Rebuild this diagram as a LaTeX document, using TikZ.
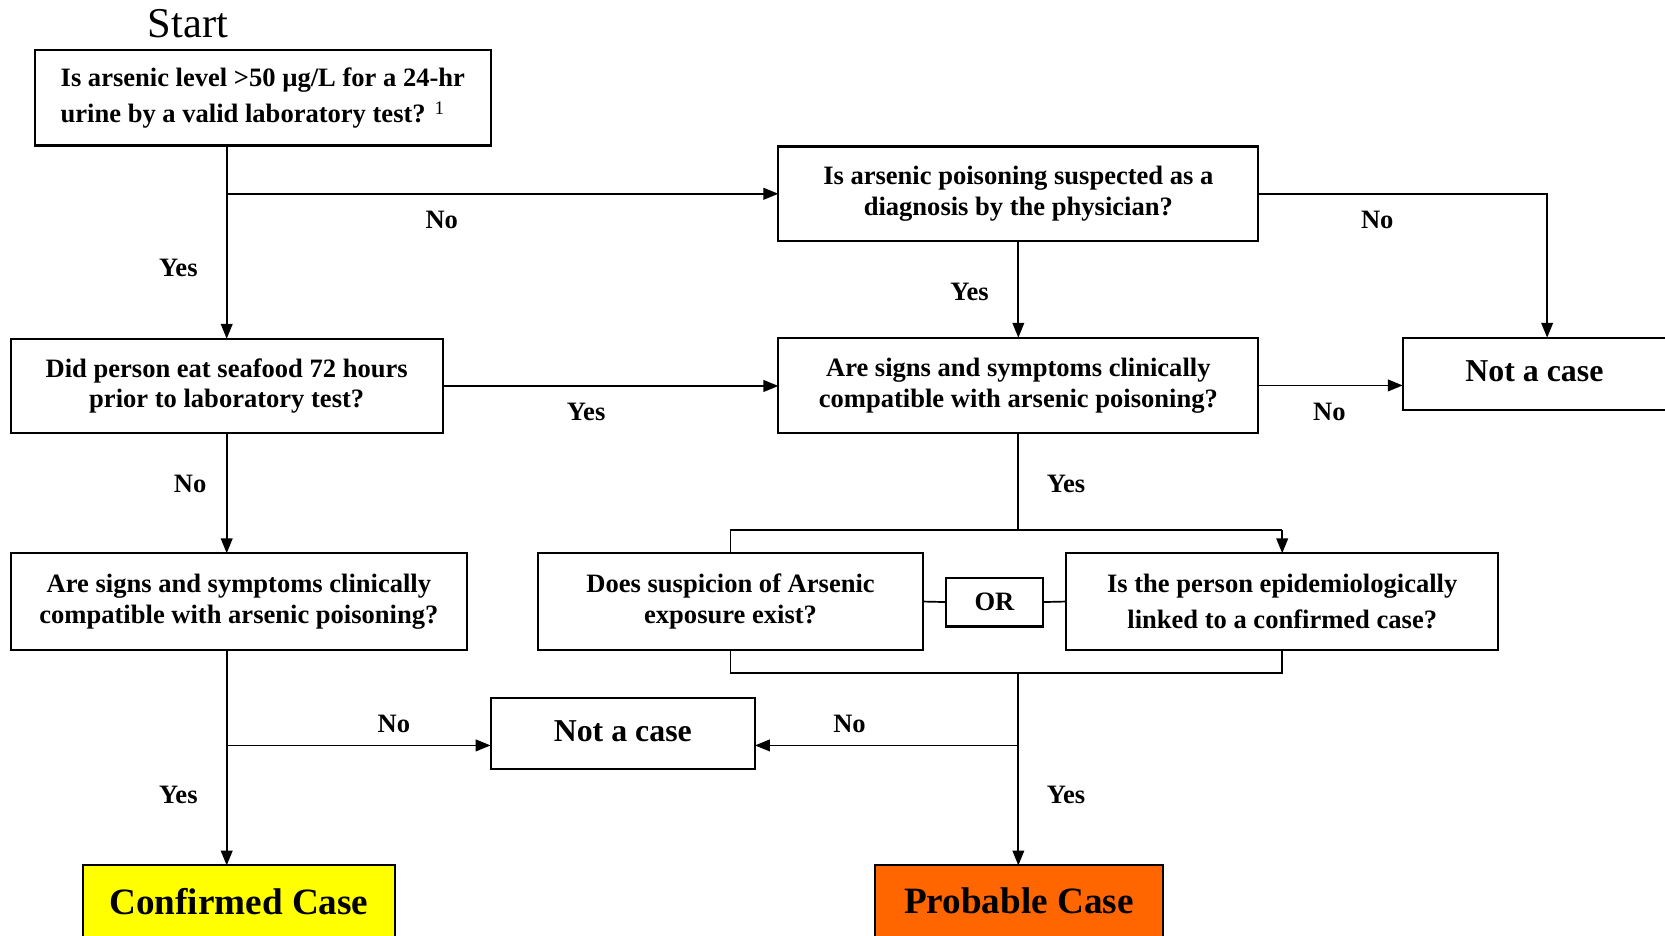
\documentclass[tikz,border=0pt]{standalone}
\usepackage{fontspec}
\setmainfont{Liberation Serif}
\usetikzlibrary{arrows.meta,calc}
\definecolor{cyel}{HTML}{FFFF00}
\definecolor{corg}{HTML}{FF6600}
\begin{document}
\begin{tikzpicture}[x=0.5pt,y=-0.5pt,
  box/.style={draw, line width=1pt, inner sep=0pt, outer sep=0pt, align=center,
    font=\bfseries\fontsize{12.5}{14.5}\selectfont},
  bigbox/.style={box, font=\bfseries\fontsize{15}{18}\selectfont},
  endbox/.style={box, font=\bfseries\fontsize{17.5}{21}\selectfont},
  lbl/.style={font=\bfseries\fontsize{12.5}{15}\selectfont, inner sep=0pt},
  ln/.style={line width=0.8pt},
  arr/.style={ln, -{Triangle[length=7pt,width=5.5pt]}}]
\useasboundingbox (0,0) rectangle (1568,881);

\node[font=\fontsize{20}{24}\selectfont, inner sep=0pt] (start) at (177,22) {Start};

\node[box, minimum width=214.5pt, minimum height=45pt, align=left,
  font=\bfseries\fontsize{12.5}{17}\selectfont] (b1) at (247.5,92)
  {Is arsenic level >50 µg/L for a 24-hr\\urine by a valid laboratory test? \textmd{\raisebox{0.6ex}{\fontsize{9}{9}\selectfont 1}}};
\node[box, minimum width=226pt, minimum height=44.5pt] (b2) at (959,182.5)
  {Is arsenic poisoning suspected as a\\diagnosis by the physician?};
\node[box, minimum width=203.5pt, minimum height=44.5pt] (b3) at (213.5,363.5)
  {Did person eat seafood 72 hours\\prior to laboratory test?};
\node[box, minimum width=226pt, minimum height=45pt] (b4) at (959,363)
  {Are signs and symptoms clinically\\compatible with arsenic poisoning?};
\node[bigbox, minimum width=124pt, minimum height=34pt] (b5) at (1445,352) {\raisebox{2.5pt}{Not a case}};
\node[box, minimum width=215pt, minimum height=45.5pt] (b6) at (225,566.5)
  {Are signs and symptoms clinically\\compatible with arsenic poisoning?};
\node[box, minimum width=181pt, minimum height=45.5pt] (b7) at (688,566.5)
  {Does suspicion of Arsenic\\exposure exist?};
\node[box, minimum width=45.5pt, minimum height=23pt] (or) at (936.5,567) {\raisebox{-1pt}{OR}};
\node[box, minimum width=203.5pt, minimum height=45.5pt, font=\bfseries\fontsize{12.5}{17}\selectfont] (b8) at (1207.5,566.5)
  {Is the person epidemiologically\\linked to a confirmed case?};
\node[bigbox, minimum width=124.5pt, minimum height=33.5pt] (b9) at (586.5,690.5) {\raisebox{2pt}{Not a case}};
\node[endbox, fill=cyel, minimum width=147pt, minimum height=35pt] (conf) at (225,850) {\raisebox{1.5pt}{Confirmed Case}};
\node[endbox, fill=corg, minimum width=135.5pt, minimum height=35pt] (prob) at (959.5,850) {\raisebox{1.5pt}{Probable Case}};

% coordinates for junctions
\coordinate (j1) at (b1.south -| b3);
\coordinate (s1) at (959,499);
\coordinate (j2) at (959,634);
\coordinate (k1) at (959,702);
\coordinate (k2) at (213.5,702);

% top-left chain
\draw[arr] (j1) -- (b3.north);
\draw[arr] (j1) |- (b2.west);
\draw[arr] (b2.east) -| ([xshift=6pt]b5.north);
\draw[arr] (b2.south) -- (b4.north);
\draw[arr] (b3.east) -- (b3.east -| b4.west);
\draw[arr] (b4.east) -- (b4.east -| b5.west);
\draw[arr] (b3.south) -- (b3.south |- b6.north);

% split into two criteria
\draw[ln] (b4.south) -- (s1);
\draw[ln] (b7.north) -- (s1 -| b7) -- (s1 -| b8);
\draw[arr] (s1 -| b8) -- (b8.north);
\draw[ln] (b7.east) -- (or.west);
\draw[ln] (or.east) -- (b8.west);
\draw[ln] (b7.south) -- (j2 -| b7) -- (j2 -| b8) -- (b8.south);
\draw[arr] (j2) -- (prob.north -| j2);
\draw[arr] (k1) -- (k1 -| b9.east);

% left bottom
\draw[arr] (b6.south -| b3) -- (conf.north -| b3);
\draw[arr] (k2) -- (k2 -| b9.west);

% labels
\node[lbl] (l1) at (416,207) {No};
\node[lbl] (l2) at (168,252) {Yes};
\node[lbl] (l3) at (1297,207) {No};
\node[lbl] (l4) at (913,275) {Yes};
\node[lbl] (l5) at (552,388) {Yes};
\node[lbl] (l6) at (1252,388) {No};
\node[lbl] (l7) at (179,456) {No};
\node[lbl] (l8) at (1004,456) {Yes};
\node[lbl] (l9) at (371,682) {No};
\node[lbl] (l10) at (800,682) {No};
\node[lbl] (l11) at (168,749) {Yes};
\node[lbl] (l12) at (1004,749) {Yes};
\end{tikzpicture}
\end{document}
